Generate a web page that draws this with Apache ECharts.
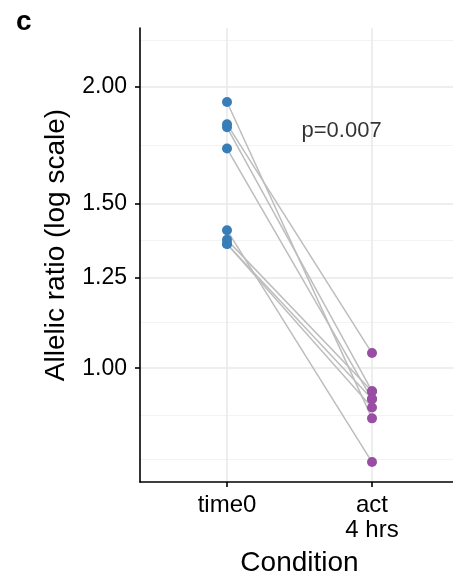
<!DOCTYPE html>
<html>
<head>
<meta charset="utf-8">
<script src="https://cdn.jsdelivr.net/npm/echarts@6/dist/echarts.min.js"></script>
<style>
  html, body { margin: 0; padding: 0; background: #fff; }
  #chart { width: 453px; height: 578px; }
</style>
</head>
<body>
<div id="chart"></div>
<script>
// Conditions on the x axis (positions 0 and 1)
const categories = ['time0', 'act\n4 hrs'];

// Paired allelic ratios, one entry per sample
const time0Ratio = [1.924, 1.822, 1.808, 1.716, 1.404, 1.371, 1.357, 1.357];
const act4hRatio = [0.884, 1.038, 0.945, 0.927, 0.794, 0.945, 0.927, 0.908];

// Log-scale y axis breaks
const yMajorTicks = [1.00, 1.25, 1.50, 2.00];
const yMinorBreaks = [0.800, 0.894, 1.118, 1.369, 1.732, 2.236];

const pLabel = 'p=0.007';

const FONT = '"Liberation Sans", Arial, Helvetica, sans-serif';
const blue = '#377eb8';
const purple = '#984ea3';
const pairGrey = '#bdbdbd';

const chart = echarts.init(document.getElementById('chart'), null, { renderer: 'canvas' });

// Background grid lines drawn as mark lines
const gridLines = [];
yMinorBreaks.forEach(v => gridLines.push({ yAxis: v, lineStyle: { color: '#f3f3f3', width: 1, type: 'solid' } }));
yMajorTicks.forEach(v => gridLines.push({ yAxis: v, lineStyle: { color: '#e9e9e9', width: 1.5, type: 'solid' } }));
categories.forEach((c, i) => gridLines.push({ xAxis: i, lineStyle: { color: '#e9e9e9', width: 1.5, type: 'solid' } }));

const series = [{
  type: 'line',
  data: [],
  silent: true,
  z: 0,
  markLine: {
    z: 0,
    silent: true,
    symbol: ['none', 'none'],
    label: { show: false },
    emphasis: { disabled: true },
    animation: false,
    data: gridLines
  }
}];

// Lines joining each sample's two measurements
time0Ratio.forEach((v, i) => {
  series.push({
    type: 'line',
    data: [[0, v], [1, act4hRatio[i]]],
    symbol: 'none',
    lineStyle: { color: pairGrey, width: 1.5 },
    silent: true,
    z: 2
  });
});

series.push({
  type: 'scatter',
  data: time0Ratio.map(v => [0, v]),
  symbolSize: 10,
  itemStyle: { color: blue, opacity: 1 },
  z: 3
});
series.push({
  type: 'scatter',
  data: act4hRatio.map(v => [1, v]),
  symbolSize: 10,
  itemStyle: { color: purple, opacity: 1 },
  z: 3
});

// Test annotation
series.push({
  type: 'scatter',
  data: [[0.79, 1.79]],
  symbolSize: 0,
  silent: true,
  label: {
    show: true,
    position: 'inside',
    formatter: pLabel,
    color: '#000',
    fontFamily: FONT,
    fontSize: 22
  },
  z: 4
});

chart.setOption({
  animation: false,
  backgroundColor: '#fff',
  graphic: [{
    type: 'text',
    left: 16,
    top: 8,
    style: { text: 'c', font: 'bold 28px ' + FONT, fill: '#000' }
  }],
  grid: { left: 140, right: -6, top: 28, bottom: 96, containLabel: false, outerBoundsMode: 'none' },
  xAxis: {
    type: 'value',
    min: -0.6,
    max: 1.6,
    name: 'Condition',
    nameLocation: 'middle',
    nameGap: 67,
    nameTextStyle: { fontFamily: FONT, fontSize: 28, color: '#000' },
    axisLine: { show: true, onZero: false, lineStyle: { color: '#000', width: 1.6 } },
    axisTick: { show: true, customValues: [0, 1], length: 5, lineStyle: { color: '#000', width: 1.6 } },
    axisLabel: {
      customValues: [0, 1],
      formatter: v => categories[Math.round(v)],
      fontFamily: FONT,
      fontSize: 24,
      color: '#000',
      margin: 11,
      lineHeight: 25
    },
    splitLine: { show: false }
  },
  yAxis: {
    type: 'log',
    logBase: 2,
    min: 0.756,
    max: 2.308,
    name: 'Allelic ratio (log scale)',
    nameLocation: 'middle',
    nameGap: 70,
    nameTextStyle: { fontFamily: FONT, fontSize: 28, color: '#000', padding: [0, 0, 0, 20] },
    axisLine: { show: true, onZero: false, lineStyle: { color: '#000', width: 1.6 } },
    axisTick: { show: true, customValues: yMajorTicks, length: 5, lineStyle: { color: '#000', width: 1.6 } },
    axisLabel: {
      customValues: yMajorTicks,
      formatter: v => Number(v).toFixed(2),
      fontFamily: FONT,
      fontSize: 23,
      color: '#000',
      margin: 13
    },
    splitLine: { show: false },
    minorSplitLine: { show: false }
  },
  series: series
});
</script>
</body>
</html>
